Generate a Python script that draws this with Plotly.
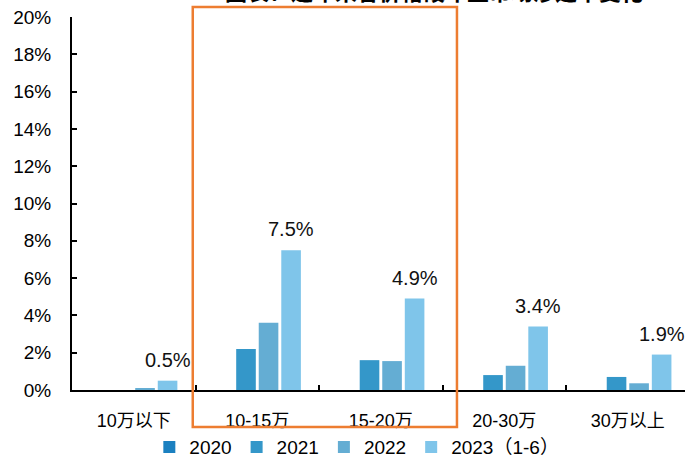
import plotly.graph_objects as go

categories = ["10万以下", "10-15万", "15-20万", "20-30万", "30万以上"]
series_names = ["2020", "2021", "2022", "2023（1-6）"]
values_2020 = [0, 0, 0, 0, 0]
values_2021 = [0, 2.2, 1.6, 0.8, 0.7]
values_2022 = [0.1, 3.6, 1.55, 1.3, 0.36]
values_2023 = [0.5, 7.5, 4.9, 3.4, 1.9]
labels_2023 = ["0.5%", "7.5%", "4.9%", "3.4%", "1.9%"]
colors = ["#1B80C0", "#3497C9", "#64ADD3", "#7FC5EA"]
y_ticks = list(range(0, 21, 2))
y_tick_text = [f"{v}%" for v in y_ticks]

FONT = "Arial, 'Liberation Sans', 'Noto Sans CJK SC', sans-serif"

fig = go.Figure()
for name, vals, col in zip(series_names,
                           [values_2020, values_2021, values_2022, values_2023],
                           colors):
    fig.add_trace(go.Bar(x=categories, y=vals, name=name,
                         marker=dict(color=col, line=dict(width=0))))

for cat, v, lab in zip(categories, values_2023, labels_2023):
    fig.add_annotation(x=cat, y=v, text=lab, showarrow=False,
                       xanchor="center", yanchor="bottom",
                       xshift=34, yshift=8,
                       font=dict(size=20, color="#111111", family=FONT))

# partially visible title (clipped at top of the image)
fig.add_annotation(xref="paper", yref="paper", x=0.59, y=1.028,
                   text="<b>图表：近年来各价格段车型市场渗透率变化</b>",
                   showarrow=False, xanchor="center", yanchor="bottom",
                   font=dict(size=22, color="#000000", family=FONT))

# orange highlight box
fig.add_shape(type="rect", xref="paper", yref="paper",
              x0=0.197, x1=0.628, y0=-0.099, y1=1.027,
              line=dict(color="#ED7D31", width=2.5), fillcolor="rgba(0,0,0,0)")

fig.update_layout(
    width=685, height=460,
    margin=dict(l=72, r=0, t=17, b=70, autoexpand=False),
    paper_bgcolor="white", plot_bgcolor="white",
    barmode="group", bargap=0.27, bargroupgap=0.13,
    font=dict(family=FONT, color="#000000"),
    showlegend=True,
    legend=dict(orientation="h", xref="container", yref="container",
                x=0.218, xanchor="left", y=0.028, yanchor="middle",
                font=dict(size=19, family=FONT, color="#000000"),
                itemwidth=30, tracegroupgap=0, bgcolor="rgba(0,0,0,0)"),
)
fig.update_yaxes(range=[0, 20], tickmode="array", tickvals=y_ticks,
                 ticktext=y_tick_text,
                 showgrid=False, zeroline=False,
                 showline=True, linecolor="#000000", linewidth=2,
                 ticks="inside", ticklen=5, tickwidth=1.5, tickcolor="#000000",
                 ticklabelstandoff=15, automargin=False,
                 tickfont=dict(size=19, family=FONT, color="#000000"))
fig.update_xaxes(range=[-0.5, 4.463], showgrid=False,
                 showline=True, linecolor="#000000", linewidth=2,
                 ticks="inside", tickson="boundaries", ticklen=5, tickwidth=1.5,
                 tickcolor="#000000", ticklabelstandoff=13, automargin=False,
                 tickfont=dict(size=18, family=FONT, color="#000000"))

fig.write_html("out.html")
